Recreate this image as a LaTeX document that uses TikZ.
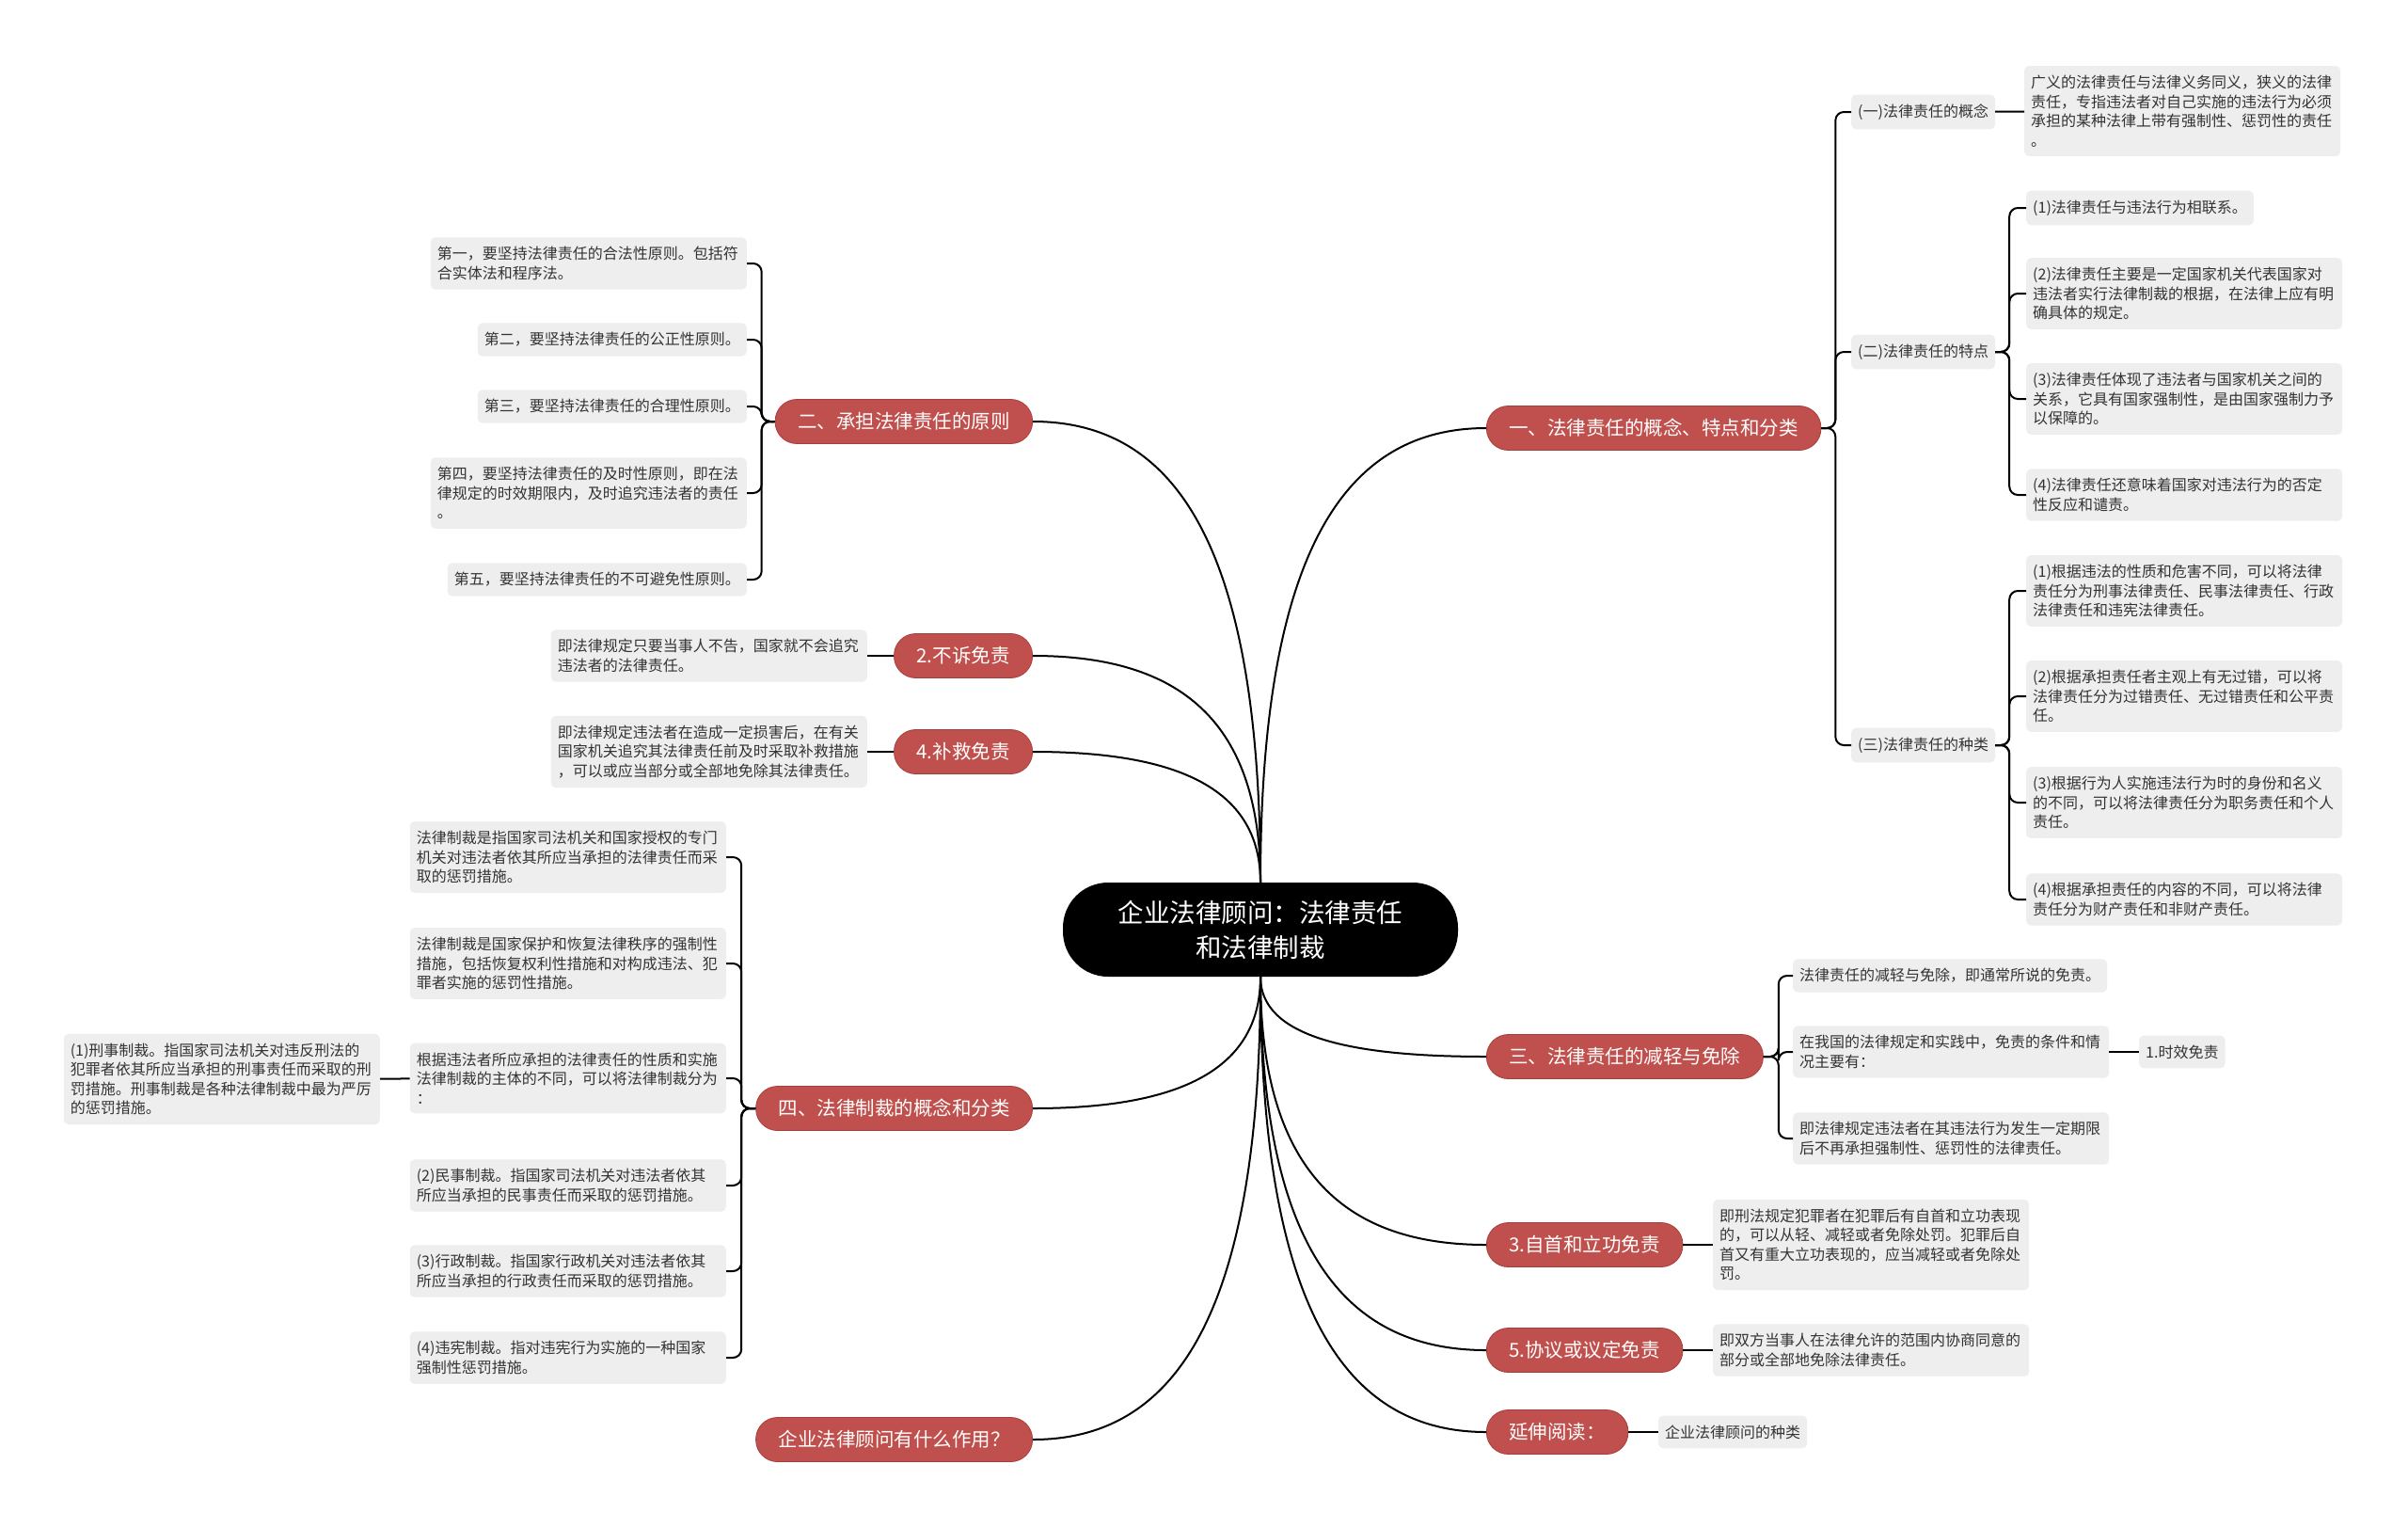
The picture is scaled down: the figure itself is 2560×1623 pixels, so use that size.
\documentclass[tikz,border=0pt]{standalone}
\usepackage{fontspec}
\setmainfont{Noto Sans CJK SC}
\definecolor{topicred}{RGB}{192,80,77}
\definecolor{topicedge}{RGB}{168,62,60}
\definecolor{leafgray}{RGB}{238,238,238}
\definecolor{leaftext}{RGB}{51,51,51}
\newcommand{\leafsize}{\fontsize{16pt}{20.5pt}\selectfont}

\begin{document}
\begin{tikzpicture}[x=1pt,y=-1pt,
  root/.style={fill=black,text=white,rounded corners=48pt,
               minimum width=420pt,minimum height=100pt,align=center,
               font=\fontsize{27.5pt}{37pt}\selectfont},
  topic/.style={fill=topicred,draw=topicedge,line width=0.8pt,text=white,
               rounded corners=23pt,minimum height=47pt,inner xsep=24pt,
               inner ysep=2pt,font=\fontsize{20.5pt}{24pt}\selectfont},
  leaf/.style={fill=leafgray,text=leaftext,rounded corners=5pt,
               inner xsep=7pt,inner ysep=10pt,align=left,font=\leafsize},
  para/.style={leaf,text width=322pt},
  link/.style={draw=black,line width=2pt},
  bracket/.style={link,rounded corners=9pt}]
\useasboundingbox[fill=white] (0,0) rectangle (2560,1623);

\node[root](root) at (1340,988) {企业法律顾问：法律责任\\和法律制裁};

% main topics
\node[topic,anchor=west](r1) at (1580,455)  {一、法律责任的概念、特点和分类};
\node[topic,anchor=west](r2) at (1580,1123) {三、法律责任的减轻与免除};
\node[topic,anchor=west](r3) at (1580,1323) {3.自首和立功免责};
\node[topic,anchor=west](r4) at (1580,1435) {5.协议或议定免责};
\node[topic,anchor=west](r5) at (1580,1522) {延伸阅读：};
\node[topic,anchor=east](l1) at (1098,448)  {二、承担法律责任的原则};
\node[topic,anchor=east](l2) at (1098,697)  {2.不诉免责};
\node[topic,anchor=east](l3) at (1098,799)  {4.补救免责};
\node[topic,anchor=east](l4) at (1098,1178) {四、法律制裁的概念和分类};
\node[topic,anchor=east](l5) at (1098,1530) {企业法律顾问有什么作用？};

% right side
\node[leaf,anchor=west](a1) at (1968,119) {(一)法律责任的概念};
\node[leaf,anchor=west](a2) at (1968,374) {(二)法律责任的特点};
\node[leaf,anchor=west](a3) at (1968,792) {(三)法律责任的种类};
\node[para,anchor=west](a1t) at (2152,118)
  {广义的法律责任与法律义务同义，狭义的法律\\责任，专指违法者对自己实施的违法行为必须\\承担的某种法律上带有强制性、惩罚性的责任\\。};
\node[leaf,anchor=west](b1) at (2154,221) {(1)法律责任与违法行为相联系。};
\node[para,anchor=west](b2) at (2154,312)
  {(2)法律责任主要是一定国家机关代表国家对\\违法者实行法律制裁的根据，在法律上应有明\\确具体的规定。};
\node[para,anchor=west](b3) at (2154,424)
  {(3)法律责任体现了违法者与国家机关之间的\\关系，它具有国家强制性，是由国家强制力予\\以保障的。};
\node[para,anchor=west](b4) at (2154,526)
  {(4)法律责任还意味着国家对违法行为的否定\\性反应和谴责。};
\node[para,anchor=west](c1) at (2154,628)
  {(1)根据违法的性质和危害不同，可以将法律\\责任分为刑事法律责任、民事法律责任、行政\\法律责任和违宪法律责任。};
\node[para,anchor=west](c2) at (2154,740)
  {(2)根据承担责任者主观上有无过错，可以将\\法律责任分为过错责任、无过错责任和公平责\\任。};
\node[para,anchor=west](c3) at (2154,853)
  {(3)根据行为人实施违法行为时的身份和名义\\的不同，可以将法律责任分为职务责任和个人\\责任。};
\node[para,anchor=west](c4) at (2154,956)
  {(4)根据承担责任的内容的不同，可以将法律\\责任分为财产责任和非财产责任。};
\node[leaf,anchor=west](d1) at (1906,1037) {法律责任的减轻与免除，即通常所说的免责。};
\node[para,anchor=west](d2) at (1906,1118)
  {在我国的法律规定和实践中，免责的条件和情\\况主要有：};
\node[para,anchor=west](d3) at (1906,1210)
  {即法律规定违法者在其违法行为发生一定期限\\后不再承担强制性、惩罚性的法律责任。};
\node[leaf,anchor=west](d2a) at (2274,1118) {1.时效免责};
\node[para,anchor=west](e3) at (1821,1323)
  {即刑法规定犯罪者在犯罪后有自首和立功表现\\的，可以从轻、减轻或者免除处罚。犯罪后自\\首又有重大立功表现的，应当减轻或者免除处\\罚。};
\node[para,anchor=west](e4) at (1821,1435)
  {即双方当事人在法律允许的范围内协商同意的\\部分或全部地免除法律责任。};
\node[leaf,anchor=west](e5) at (1763,1522) {企业法律顾问的种类};

% left side
\node[para,anchor=east](f1) at (794,280)
  {第一，要坚持法律责任的合法性原则。包括符\\合实体法和程序法。};
\node[leaf,anchor=east](f2) at (794,361) {第二，要坚持法律责任的公正性原则。};
\node[leaf,anchor=east](f3) at (794,432) {第三，要坚持法律责任的合理性原则。};
\node[para,anchor=east](f4) at (794,524)
  {第四，要坚持法律责任的及时性原则，即在法\\律规定的时效期限内，及时追究违法者的责任\\。};
\node[leaf,anchor=east](f5) at (794,616) {第五，要坚持法律责任的不可避免性原则。};
\node[para,anchor=east](g2) at (922,697)
  {即法律规定只要当事人不告，国家就不会追究\\违法者的法律责任。};
\node[para,anchor=east](g3) at (922,799)
  {即法律规定违法者在造成一定损害后，在有关\\国家机关追究其法律责任前及时采取补救措施\\，可以或应当部分或全部地免除其法律责任。};
\node[para,anchor=east](h1) at (772,911)
  {法律制裁是指国家司法机关和国家授权的专门\\机关对违法者依其所应当承担的法律责任而采\\取的惩罚措施。};
\node[para,anchor=east](h2) at (772,1024)
  {法律制裁是国家保护和恢复法律秩序的强制性\\措施，包括恢复权利性措施和对构成违法、犯\\罪者实施的惩罚性措施。};
\node[para,anchor=east](h3) at (772,1146)
  {根据违法者所应承担的法律责任的性质和实施\\法律制裁的主体的不同，可以将法律制裁分为\\：};
\node[para,anchor=east](h3a) at (404,1147)
  {(1)刑事制裁。指国家司法机关对违反刑法的\\犯罪者依其所应当承担的刑事责任而采取的刑\\罚措施。刑事制裁是各种法律制裁中最为严厉\\的惩罚措施。};
\node[para,anchor=east](h4) at (772,1260)
  {(2)民事制裁。指国家司法机关对违法者依其\\所应当承担的民事责任而采取的惩罚措施。};
\node[para,anchor=east](h5) at (772,1351)
  {(3)行政制裁。指国家行政机关对违法者依其\\所应当承担的行政责任而采取的惩罚措施。};
\node[para,anchor=east](h6) at (772,1443)
  {(4)违宪制裁。指对违宪行为实施的一种国家\\强制性惩罚措施。};

% root curves
\draw[link](root.north) .. controls +(0,-363) and +(-144,0) .. (r1.west);
\draw[link](root.north) .. controls +(0,-368) and +(146,0) .. (l1.east);
\draw[link](root.north) .. controls +(0,-181) and +(146,0) .. (l2.east);
\draw[link](root.north) .. controls +(0,-104) and +(146,0) .. (l3.east);
\draw[link](root.south) .. controls +(0,64) and +(-144,0) .. (r2.west);
\draw[link](root.south) .. controls +(0,214) and +(-144,0) .. (r3.west);
\draw[link](root.south) .. controls +(0,298) and +(-144,0) .. (r4.west);
\draw[link](root.south) .. controls +(0,363) and +(-144,0) .. (r5.west);
\draw[link](root.south) .. controls +(0,104) and +(146,0) .. (l4.east);
\draw[link](root.south) .. controls +(0,369) and +(146,0) .. (l5.east);

% brackets
\foreach \c in {a1,a2,a3} \draw[bracket](r1.east) -- ++(15,0) |- (\c.west);
\foreach \c in {b1,b2,b3,b4} \draw[bracket](a2.east) -- ++(15,0) |- (\c.west);
\foreach \c in {c1,c2,c3,c4} \draw[bracket](a3.east) -- ++(15,0) |- (\c.west);
\foreach \c in {d1,d2,d3} \draw[bracket](r2.east) -- ++(16,0) |- (\c.west);
\foreach \c in {f1,f2,f3,f4,f5} \draw[bracket](l1.west) -- ++(-14,0) |- (\c.east);
\foreach \c in {h1,h2,h3,h4,h5,h6} \draw[bracket](l4.west) -- ++(-15,0) |- (\c.east);

% single links
\draw[link](a1) -- (a1t);
\draw[link](d2) -- (d2a);
\draw[link](r3) -- (e3);
\draw[link](r4) -- (e4);
\draw[link](r5) -- (e5);
\draw[link](l2) -- (g2);
\draw[link](l3) -- (g3);
\draw[link](h3) -- (h3a);
\end{tikzpicture}
\end{document}
